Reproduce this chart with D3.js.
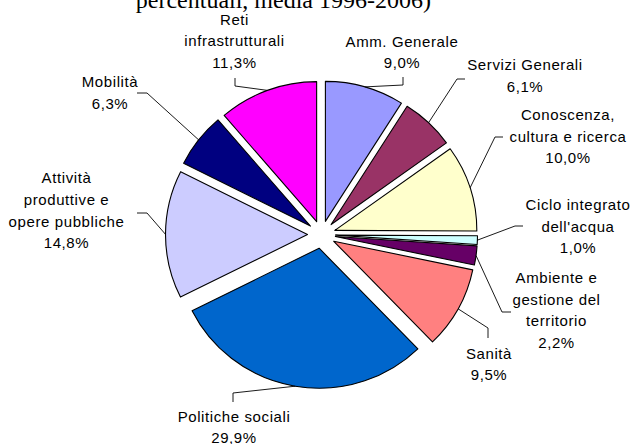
<!DOCTYPE html>
<html>
<head>
<meta charset="utf-8">
<script src="https://cdn.jsdelivr.net/npm/d3@7/dist/d3.min.js"></script>
<style>
  html, body { margin: 0; padding: 0; background: #ffffff; }
  svg { display: block; }
  .lbl { font-family: Arial, "Liberation Sans", sans-serif; font-size: 15px; letter-spacing: 0.6px; fill: #000; }
  .title { font-family: "Times New Roman", "Liberation Serif", serif; font-size: 24px; fill: #000; }
</style>
</head>
<body>
<svg id="chart" width="630" height="444"></svg>
<script>
// Spending shares by sector (percent, 1996-2006 average)
const categories = [
  "Amm. Generale",
  "Servizi Generali",
  "Conoscenza, cultura e ricerca",
  "Ciclo integrato dell'acqua",
  "Ambiente e gestione del territorio",
  "Sanità",
  "Politiche sociali",
  "Attività produttive e opere pubbliche",
  "Mobilità",
  "Reti infrastrutturali"
];
const values = [9.0, 6.1, 10.0, 1.0, 2.2, 9.5, 29.9, 14.8, 6.3, 11.3];
const labelLines = [
  ["Amm. Generale"],
  ["Servizi Generali"],
  ["Conoscenza,", "cultura e ricerca"],
  ["Ciclo integrato", "dell'acqua"],
  ["Ambiente e", "gestione del", "territorio"],
  ["Sanità"],
  ["Politiche sociali"],
  ["Attività", "produttive e", "opere pubbliche"],
  ["Mobilità"],
  ["Reti", "infrastrutturali"]
];
const titleText = "percentuali, media 1996-2006)";

// Slice fills
const colors = ["#9999FF", "#993366", "#FFFFCC", "#CCFFFF", "#660066",
                "#FF8080", "#0066CC", "#CCCCFF", "#000080", "#FF00FF"];

// Label placement: text centre x, first baseline y, leader elbow and leader end
const labelLayout = [
  { x: 402, y: 46.5, elbow: [403, 85],  end: [403, 77] },
  { x: 525, y: 70,   elbow: [457, 79],  end: [465, 79] },
  { x: 568, y: 120,  elbow: [495, 137], end: [503, 137] },
  { x: 578, y: 210,  elbow: [515, 226], end: [523, 226] },
  { x: 556.5, y: 283, elbow: [502, 312], end: [511, 312] },
  { x: 489, y: 358.5, elbow: [488, 328], end: [488, 338] },
  { x: 234, y: 421.7, elbow: [233, 393], end: [233, 402] },
  { x: 66.5, y: 183.3, elbow: [147, 213], end: [137, 213] },
  { x: 110, y: 87,   elbow: [147, 93],  end: [137, 93] },
  { x: 234.5, y: 24.5, elbow: [235, 86], end: [235, 78] }
];

const W = 630, H = 444;
const cx = 321.5, cy = 234.6;
const R = 140;          // pie radius
const sx = 142 / 140;   // slight horizontal stretch of the pie
const explode = 13.8;   // radial offset of each slice
const lineH = 21.7;

const svg = d3.select("#chart");
svg.append("rect").attr("width", W).attr("height", H).attr("fill", "#fff");

// Title (only its last line is inside the frame)
svg.append("text").attr("class", "title")
  .attr("x", 431).attr("y", 8).attr("text-anchor", "end")
  .text(titleText);

const pie = d3.pie().sort(null).value(d => d).startAngle(0).endAngle(2 * Math.PI);
const arcs = pie(values);
const arc = d3.arc().innerRadius(0).outerRadius(R);
const mid = a => (a.startAngle + a.endAngle) / 2;

const g = svg.append("g").attr("transform", `translate(${cx},${cy}) scale(${sx},1)`);
g.selectAll("path.slice")
  .data(arcs)
  .join("path")
  .attr("class", "slice")
  .attr("transform", a => `translate(${Math.sin(mid(a)) * explode},${-Math.cos(mid(a)) * explode})`)
  .attr("d", arc)
  .attr("fill", (a, i) => colors[i])
  .attr("stroke", "#000")
  .attr("stroke-width", 1.1)
  .attr("stroke-linejoin", "round")
  .attr("vector-effect", "non-scaling-stroke");

// Leader lines from each slice's outer arc midpoint to its label
const line = d3.line();
svg.selectAll("path.leader")
  .data(arcs)
  .join("path")
  .attr("class", "leader")
  .attr("d", (a, i) => {
    const m = mid(a);
    const start = [cx + sx * Math.sin(m) * (R + explode), cy - Math.cos(m) * (R + explode)];
    return line([start, labelLayout[i].elbow, labelLayout[i].end]);
  })
  .attr("fill", "none")
  .attr("stroke", "#000")
  .attr("stroke-width", 0.9);

// Labels: category lines plus the percentage
const fmt = v => d3.format(".1f")(v).replace(".", ",") + "%";
const labels = svg.selectAll("text.lbl")
  .data(arcs)
  .join("text")
  .attr("class", "lbl")
  .attr("text-anchor", "middle");
labels.each(function (a, i) {
  const t = d3.select(this);
  const L = labelLayout[i];
  const lines = labelLines[i].concat([fmt(values[i])]);
  lines.forEach((s, k) => {
    t.append("tspan").attr("x", L.x).attr("y", L.y + k * lineH).text(s);
  });
});
</script>
</body>
</html>
